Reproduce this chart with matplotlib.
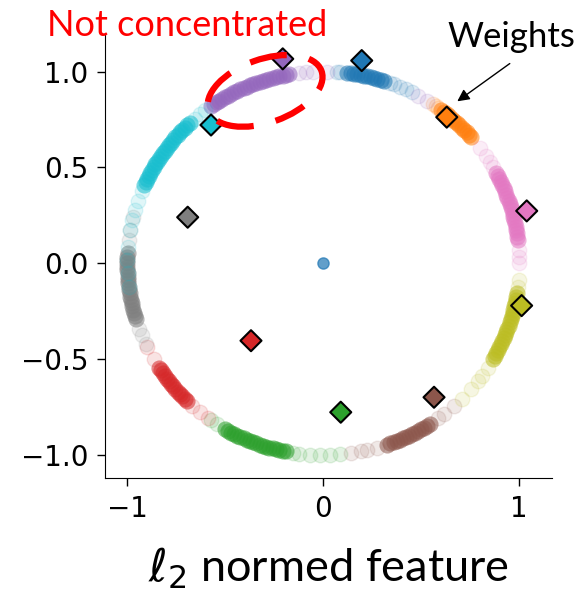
import numpy as np
import matplotlib
matplotlib.use('Agg')
import matplotlib.pyplot as plt
from matplotlib.patches import Ellipse

plt.rcParams['font.family'] = ['DejaVu Sans']
plt.rcParams['axes.unicode_minus'] = True

colors = ['tab:blue', 'tab:orange', 'tab:green', 'tab:red', 'tab:purple',
          'tab:brown', 'tab:pink', 'tab:gray', 'tab:olive', 'tab:cyan']

# feature angles (deg) on the unit circle, dense part of each class
blue_core = [72, 73, 74, 75, 76, 77, 78, 79, 80, 81, 82, 83]
orange_core = [41, 42, 43, 44, 45, 46, 47, 48, 49, 50, 51, 52, 53]
green_core = [-120, -119, -118, -117, -116, -115, -114, -113, -112, -111,
              -110, -109, -108, -107, -106, -105, -104, -103, -102, -101]
red_core = [-147, -146, -145, -144, -143, -142, -141, -140, -139, -138,
            -137, -136, -135, -134]
purple_core = [100, 101, 102, 103, 104, 105, 106, 107, 108, 109, 110, 111, 112,
               113, 114, 115, 116, 117, 118, 119, 120, 121, 122, 123, 124, 125]
brown_core = [-71, -70, -69, -68, -67, -66, -65, -64, -63, -62, -61, -60,
              -59, -58, -57]
pink_core = [7, 8, 9, 10, 11, 12, 13, 14, 15, 16, 17, 18, 19, 20, 21, 22, 23,
             24, 25, 26, 27, 28]
gray_core = [177, 178, 179, 180, 181, 182, 183, 184, 185, 186, 187, 188, 189,
             190, 191, 192, 193, 194, 195, 196, 197]
olive_core = [-30, -29, -28, -27, -26, -25, -24, -23, -22, -21, -20, -19, -18,
              -17, -16, -15, -14, -13, -12, -11, -10, -9]
cyan_core = [133, 134, 135, 136, 137, 138, 139, 140, 141, 142, 143, 144, 145,
             146, 147, 148, 149, 150, 151, 152, 153, 154, 155, 156]

# sparse, faint points of each class
blue_tail = [63, 65, 67, 69, 70, 85, 86]
orange_tail = [54, 55, 56]
green_tail = [-85, -88, -91, -94, -97, -99, -123, -125]
red_tail = [-150, -154, -132, -129, -126]
purple_tail = [89, 93, 95, 97, 58, 61]
brown_tail = [-48, -52, -54, -74, -77, -79, -82]
pink_tail = [30, 32, 34, 37, 4, 2, 0]
gray_tail = [166, 170, 173, 200, 202, 205]
olive_tail = [-5, -7, -33, -36, -38, -41, -45]
cyan_tail = [127, 129, 131, 158, 161, 164, 167, 170, 175, 179, 183, 187]

cores = [blue_core, orange_core, green_core, red_core, purple_core,
         brown_core, pink_core, gray_core, olive_core, cyan_core]
tails = [blue_tail, orange_tail, green_tail, red_tail, purple_tail,
         brown_tail, pink_tail, gray_tail, olive_tail, cyan_tail]

# class weight vectors
weight_x = [0.196, 0.630, 0.089, -0.369, -0.207, 0.565, 1.038, -0.692, 1.012, -0.573]
weight_y = [1.057, 0.762, -0.777, -0.404, 1.066, -0.699, 0.273, 0.240, -0.221, 0.721]

fig = plt.figure(figsize=(5.81, 5.92), dpi=100)
ax = fig.add_axes([0.1807, 0.1926, 0.7694, 0.7517])

for c, core in zip(colors, cores):
    t = np.radians(core)
    ax.scatter(np.cos(t), np.sin(t), s=135, color=c, alpha=0.55, linewidths=0)
for c, tail in zip(colors, tails):
    t = np.radians(tail)
    ax.scatter(np.cos(t), np.sin(t), s=110, color=c, alpha=0.13)

ax.scatter([0], [0], s=65, color='tab:blue', alpha=0.7)

ax.scatter(weight_x, weight_y, s=115, marker='D', c=colors,
           edgecolors='black', linewidths=1.5, zorder=5)

ell = Ellipse((-0.297, 0.899), 0.612, 0.33, angle=20, fill=False,
              edgecolor='red', lw=4.5, linestyle=(1, (6, 3.6)), zorder=6)
ax.add_patch(ell)

ax.annotate('', xy=(0.672, 0.836), xytext=(0.963, 1.050),
            arrowprops=dict(arrowstyle='-|>', color='black', lw=1,
                            mutation_scale=18))

ax.set_xlim(-1.114, 1.167)
ax.set_ylim(-1.12, 1.201)
ax.set_xticks([-1, 0, 1])
ax.set_yticks([-1.0, -0.5, 0.0, 0.5, 1.0])
ax.tick_params(labelsize=20, length=6, width=1)
ax.tick_params(axis='y', pad=6)
ax.tick_params(axis='x', pad=6)
ax.spines['top'].set_visible(False)
ax.spines['right'].set_visible(False)

ax.set_xlabel(r'$\ell_2$ normed feature', fontsize=32.5, family='Lato', labelpad=17)

fig.text(47 / 581, 1 - 36 / 592, 'Not concentrated', color='red',
         fontsize=26, family='Lato', va='baseline', ha='left')
fig.text(447 / 581, 1 - 47 / 592, 'Weights', color='black',
         fontsize=25, family='Lato', va='baseline', ha='left')

plt.savefig('out.png', dpi=100, facecolor='white')
